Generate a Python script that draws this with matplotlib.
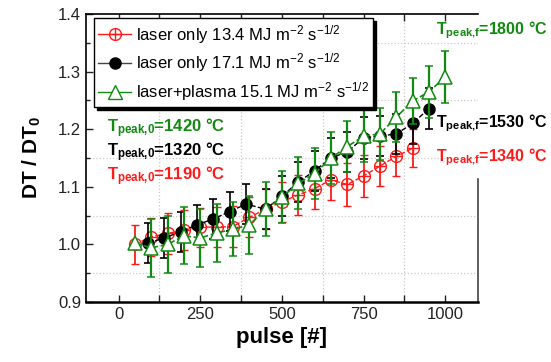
import numpy as np
import matplotlib
matplotlib.use("Agg")
import matplotlib.pyplot as plt
from matplotlib.ticker import MultipleLocator
from matplotlib.legend_handler import HandlerTuple

plt.rcParams['font.family'] = ['Liberation Sans', 'DejaVu Sans']
plt.rcParams['mathtext.fontset'] = 'custom'
plt.rcParams['mathtext.rm'] = 'Liberation Sans'
plt.rcParams['mathtext.bf'] = 'Liberation Sans:bold'
plt.rcParams['mathtext.it'] = 'Liberation Sans:italic'

# --- data ---
red_x = [50, 100, 150, 200, 250, 300, 350, 400, 450, 500, 550, 600, 650, 700, 750, 800, 850, 900]
red_y = [1.000, 1.013, 1.019, 1.025, 1.030, 1.030, 1.031, 1.047, 1.061, 1.074, 1.086, 1.097,
         1.112, 1.104, 1.119, 1.136, 1.153, 1.167]
red_err = [0.034, 0.033, 0.035, 0.035, 0.034, 0.035, 0.035, 0.035, 0.035, 0.035, 0.035, 0.035,
           0.035, 0.037, 0.036, 0.035, 0.035, 0.033]

blk_x = [90, 140, 190, 240, 290, 340, 390, 450, 500, 550, 600, 650, 700, 750, 800, 850, 900, 950]
blk_y = [1.002, 1.011, 1.022, 1.034, 1.044, 1.057, 1.070, 1.061, 1.084, 1.108, 1.128, 1.150,
         1.161, 1.185, 1.188, 1.192, 1.210, 1.236]
blk_err = [0.035, 0.034, 0.035, 0.034, 0.034, 0.034, 0.035, 0.035, 0.035, 0.035, 0.035, 0.035,
           0.035, 0.036, 0.035, 0.035, 0.035, 0.035]

grn_x = [50, 100, 150, 200, 250, 300, 350, 400, 450, 500, 550, 600, 650, 700, 750, 800, 850, 900, 950, 1000]
grn_y = [1.002, 0.994, 1.000, 1.015, 1.011, 1.020, 1.026, 1.034, 1.061, 1.082, 1.106, 1.123,
         1.150, 1.170, 1.188, 1.192, 1.221, 1.249, 1.265, 1.291]
grn_err = [0.0, 0.05, 0.05, 0.05, 0.05, 0.05, 0.047, 0.05, 0.047, 0.045, 0.045, 0.045,
           0.045, 0.045, 0.045, 0.045, 0.044, 0.04, 0.045, 0.045]

labels = [r'laser only 13.4 MJ m$^{\mathrm{-2}}$ s$^{\mathrm{-1/2}}$',
          r'laser only 17.1 MJ m$^{\mathrm{-2}}$ s$^{\mathrm{-1/2}}$',
          r'laser+plasma 15.1 MJ m$^{\mathrm{-2}}$ s$^{\mathrm{-1/2}}$']

RED = '#ff1a1a'
GRN = '#128a12'
BLK = '#000000'

fig = plt.figure(figsize=(5.51, 3.62), dpi=100)
ax = fig.add_axes([0.156, 0.166, 0.7115, 0.795])

# red: open circle with plus
er_r = ax.errorbar(red_x, red_y, yerr=red_err, color=RED, ls='--', lw=1.0, marker='o', ms=8.5,
                   mfc='none', mec=RED, mew=1.0, capsize=3, elinewidth=1.3, capthick=1.3, zorder=3)
plus_r, = ax.plot(red_x, red_y, ls='none', marker='+', ms=8.5, mec=RED, mew=1.0, zorder=3)

er_k = ax.errorbar(blk_x, blk_y, yerr=blk_err, color=BLK, ls='--', lw=1.0, marker='o', ms=8,
                   mfc=BLK, mec=BLK, capsize=3, elinewidth=1.2, capthick=1.2, zorder=4)

er_g = ax.errorbar(grn_x, grn_y, yerr=grn_err, color=GRN, ls='--', lw=1.2, marker='^', ms=9.5,
                   mfc='white', mec=GRN, mew=1.1, capsize=3, elinewidth=1.6, capthick=1.6, zorder=5)

h_r, = ax.plot([], [], color=RED, lw=1.0, marker='o', ms=8.5, mfc='none', mec=RED)
h_r2, = ax.plot([], [], ls='none', marker='+', ms=8.5, mec=RED, mew=1.0)
h_k, = ax.plot([], [], color='#444444', lw=1.0, marker='o', ms=8, mfc=BLK, mec=BLK)
h_g, = ax.plot([], [], color=GRN, lw=1.0, marker='^', ms=9.5, mfc='white', mec=GRN)

leg = ax.legend([(h_r, h_r2), h_k, h_g], labels, handler_map={tuple: HandlerTuple(ndivide=1)},
                loc='upper left', bbox_to_anchor=(0.02, 0.985), fontsize=12, frameon=True,
                fancybox=False, shadow={'color': 'black', 'alpha': 1.0}, handlelength=2.0,
                handletextpad=0.3, borderpad=0.25, labelspacing=0.35, borderaxespad=0.0)
leg.get_frame().set_edgecolor('black')
leg.get_frame().set_linewidth(1.0)
leg.set_zorder(10)

ax.set_xlim(-100, 1100)
ax.set_ylim(0.9, 1.4)
ax.xaxis.set_major_locator(MultipleLocator(250))
ax.xaxis.set_minor_locator(MultipleLocator(125))
ax.yaxis.set_major_locator(MultipleLocator(0.1))
ax.yaxis.set_minor_locator(MultipleLocator(0.05))
ax.yaxis.set_major_formatter(plt.FormatStrFormatter('%.1f'))
ax.grid(which='minor', color='#c8c8c8', ls=':', lw=0.9)
ax.set_axisbelow(True)

ax.tick_params(which='both', direction='in', top=True, right=False, labelsize=12, colors='#222222')
ax.tick_params(which='major', length=5, width=1.0)
ax.tick_params(which='minor', length=5, width=1.0)
ax.tick_params(axis='y', which='minor', length=3)
for s in ['left', 'top']:
    ax.spines[s].set_linewidth(1.2)
ax.spines['bottom'].set_linewidth(1.8)
ax.spines['right'].set_linewidth(1.2)
ax.spines['right'].set_color('#444444')
ax.spines['right'].set_bounds(0.9, 1.113)

ax.set_xlabel('pulse [#]', fontsize=16, fontweight='bold', labelpad=4)
ax.set_ylabel(r'DT / DT$_\mathbf{0}$', fontsize=15, fontweight='bold', labelpad=11)

# peak temperature notes
ax.text(-35, 1.195, r'T$_\mathbf{peak{,}0}$=1420 °C', color=GRN, fontsize=12, fontweight='bold')
ax.text(-35, 1.153, r'T$_\mathbf{peak{,}0}$=1320 °C', color=BLK, fontsize=12, fontweight='bold')
ax.text(-35, 1.112, r'T$_\mathbf{peak{,}0}$=1190 °C', color=RED, fontsize=12, fontweight='bold')
ax.text(972, 1.365, r'T$_\mathbf{peak{,}f}$=1800 °C', color=GRN, fontsize=11.5, fontweight='bold', clip_on=False)
ax.text(972, 1.204, r'T$_\mathbf{peak{,}f}$=1530 °C', color=BLK, fontsize=11.5, fontweight='bold', clip_on=False)
ax.text(972, 1.145, r'T$_\mathbf{peak{,}f}$=1340 °C', color=RED, fontsize=11.5, fontweight='bold', clip_on=False)

fig.savefig('out.png', dpi=100)
